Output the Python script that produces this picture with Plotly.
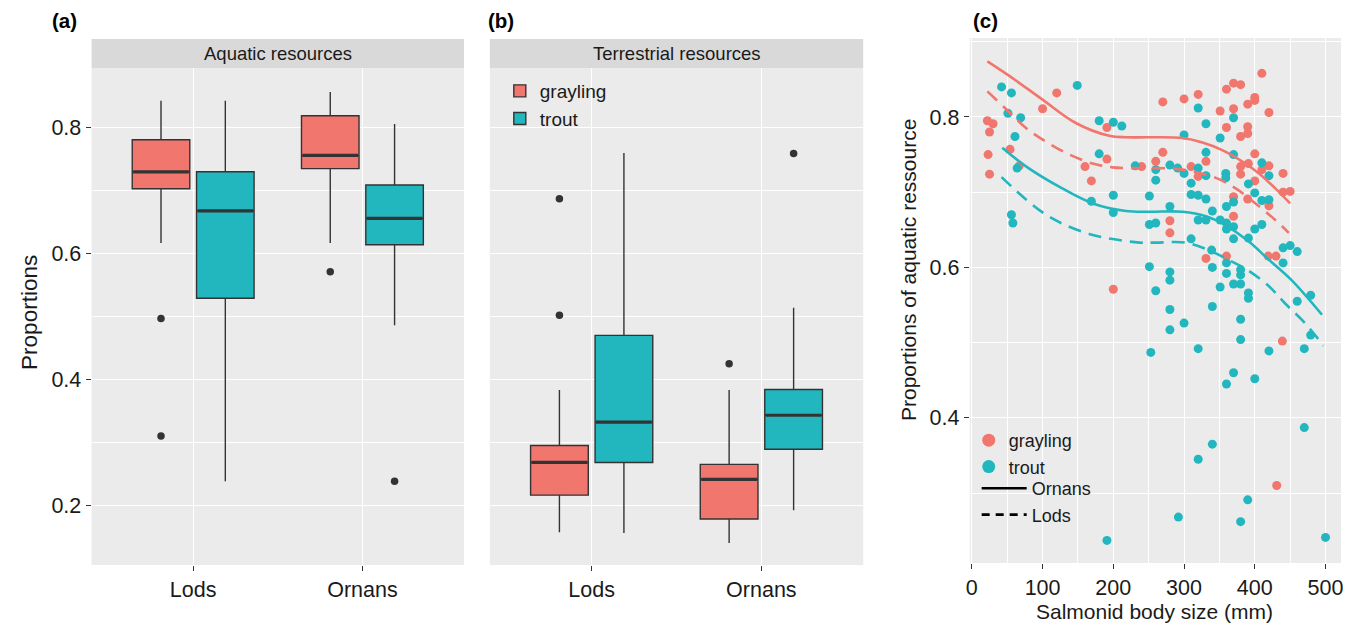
import plotly.graph_objects as go

# ---------------- data ----------------
sites = ["Lods", "Ornans"]
species = ["grayling", "trout"]
colors = {"grayling": "#F0766E", "trout": "#22B7BE"}

# Panel (a): aquatic resources (per site: Lods, Ornans)
aq_grayling_low = [0.617, 0.617]
aq_grayling_q1 = [0.703, 0.735]
aq_grayling_med = [0.730, 0.756]
aq_grayling_q3 = [0.781, 0.819]
aq_grayling_high = [0.843, 0.857]
aq_grayling_out = [[0.497, 0.310], [0.571]]

aq_trout_low = [0.238, 0.486]
aq_trout_q1 = [0.529, 0.614]
aq_trout_med = [0.668, 0.656]
aq_trout_q3 = [0.730, 0.709]
aq_trout_high = [0.843, 0.806]
aq_trout_out = [[], [0.238]]

# Panel (b): terrestrial resources
te_grayling_low = [0.157, 0.140]
te_grayling_q1 = [0.216, 0.178]
te_grayling_med = [0.268, 0.241]
te_grayling_q3 = [0.295, 0.265]
te_grayling_high = [0.383, 0.383]
te_grayling_out = [[0.687, 0.502], [0.425]]

te_trout_low = [0.156, 0.192]
te_trout_q1 = [0.268, 0.289]
te_trout_med = [0.332, 0.343]
te_trout_q3 = [0.470, 0.384]
te_trout_high = [0.760, 0.514]
te_trout_out = [[], [0.759]]

# Panel (c): body size (mm) vs proportion of aquatic resource
grayling_size = [22, 30, 25, 23, 54, 67, 25, 100, 120, 191, 191, 160, 169, 200, 240, 260,
                 270, 300, 320, 360, 370, 380, 410, 400, 400, 390, 370, 351, 420, 360, 390,
                 390, 380, 270, 400, 310, 331, 320, 380, 380, 391, 410, 420, 440, 400, 440,
                 450, 370, 390, 420, 280, 280, 370, 419, 430, 331, 360, 439, 431]
grayling_prop = [0.795, 0.791, 0.780, 0.750, 0.757, 0.735, 0.724, 0.811, 0.832, 0.786, 0.744,
                 0.734, 0.715, 0.571, 0.734, 0.741, 0.820, 0.824, 0.830, 0.837, 0.845, 0.843,
                 0.858, 0.826, 0.822, 0.817, 0.811, 0.808, 0.806, 0.786, 0.787, 0.778, 0.774,
                 0.753, 0.751, 0.734, 0.741, 0.721, 0.734, 0.724, 0.738, 0.730, 0.735, 0.725,
                 0.715, 0.700, 0.701, 0.694, 0.691, 0.682, 0.662, 0.646, 0.668, 0.615, 0.615,
                 0.612, 0.615, 0.502, 0.310]

trout_size = [42, 56, 149, 320, 51, 69, 61, 64, 56, 58, 180, 200, 212, 180, 169, 200, 200,
              231, 251, 251, 260, 251, 260, 260, 370, 331, 351, 300, 331, 370, 280, 291, 300,
              320, 331, 359, 359, 410, 420, 310, 391, 400, 310, 320, 331, 370, 410, 420, 360,
              280, 340, 320, 331, 351, 360, 360, 370, 391, 400, 410, 370, 310, 440, 450, 460,
              440, 339, 360, 340, 360, 380, 380, 280, 280, 380, 370, 351, 391, 391, 479, 460,
              260, 280, 340, 300, 280, 380, 380, 479, 470, 420, 320, 253, 370, 360, 400, 470,
              340, 320, 390, 292, 380, 500, 191]
trout_prop = [0.840, 0.832, 0.842, 0.812, 0.805, 0.799, 0.774, 0.732, 0.670, 0.659, 0.795,
              0.793, 0.788, 0.751, 0.688, 0.696, 0.673, 0.735, 0.695, 0.657, 0.659, 0.601,
              0.730, 0.716, 0.799, 0.791, 0.772, 0.776, 0.753, 0.750, 0.736, 0.732, 0.725,
              0.732, 0.722, 0.725, 0.719, 0.739, 0.722, 0.712, 0.711, 0.699, 0.697, 0.696,
              0.691, 0.687, 0.689, 0.690, 0.681, 0.681, 0.675, 0.663, 0.663, 0.663, 0.659,
              0.651, 0.654, 0.639, 0.651, 0.657, 0.638, 0.638, 0.626, 0.629, 0.621, 0.606,
              0.623, 0.606, 0.600, 0.592, 0.597, 0.590, 0.594, 0.583, 0.578, 0.578, 0.574,
              0.566, 0.559, 0.563, 0.555, 0.569, 0.544, 0.548, 0.526, 0.517, 0.531, 0.504,
              0.510, 0.492, 0.489, 0.492, 0.487, 0.460, 0.445, 0.452, 0.387, 0.365, 0.345,
              0.291, 0.268, 0.262, 0.241, 0.237]

# smoothed fits (species x site)
fit_grayling_ornans_x = [22, 54, 100, 147, 194, 218, 251, 298, 326, 354, 382, 406, 429, 450]
fit_grayling_ornans_y = [0.874, 0.854, 0.823, 0.792, 0.775, 0.773, 0.773, 0.772, 0.766, 0.756,
                         0.741, 0.725, 0.705, 0.685]
fit_grayling_lods_x = [22, 49, 77, 105, 138, 171, 199, 237, 260, 298, 345, 373, 401, 429, 448]
fit_grayling_lods_y = [0.834, 0.810, 0.785, 0.767, 0.750, 0.738, 0.733, 0.732, 0.732, 0.730,
                       0.719, 0.705, 0.685, 0.663, 0.646]
fit_trout_ornans_x = [43, 77, 124, 171, 218, 251, 298, 331, 359, 392, 420, 452, 495]
fit_trout_ornans_y = [0.759, 0.734, 0.707, 0.685, 0.675, 0.674, 0.674, 0.668, 0.656, 0.634,
                      0.610, 0.583, 0.537]
fit_trout_lods_x = [42, 77, 105, 133, 171, 204, 237, 260, 302, 335, 363, 389, 420, 443, 471, 497]
fit_trout_lods_y = [0.720, 0.690, 0.670, 0.656, 0.643, 0.637, 0.633, 0.633, 0.633, 0.623,
                    0.610, 0.597, 0.575, 0.552, 0.526, 0.496]

y_ticks_ab = [0.2, 0.4, 0.6, 0.8]
y_ticks_c = [0.4, 0.6, 0.8]
x_ticks_c = [0, 100, 200, 300, 400, 500]

# ---------------- layout helpers ----------------
W, H = 1360, 625
FONT = "Liberation Sans, Arial, sans-serif"
TXT = "#1a1a1a"
DARK = "#333333"


def pxx(v):
    return v / W


def pxy(v):
    return 1 - v / H


OFF = {"grayling": -0.19, "trout": 0.19}
BW = 0.34

fig = go.Figure()

stats = {
    "a": {
        "grayling": (aq_grayling_low, aq_grayling_q1, aq_grayling_med, aq_grayling_q3,
                     aq_grayling_high, aq_grayling_out),
        "trout": (aq_trout_low, aq_trout_q1, aq_trout_med, aq_trout_q3, aq_trout_high,
                  aq_trout_out),
    },
    "b": {
        "grayling": (te_grayling_low, te_grayling_q1, te_grayling_med, te_grayling_q3,
                     te_grayling_high, te_grayling_out),
        "trout": (te_trout_low, te_trout_q1, te_trout_med, te_trout_q3, te_trout_high,
                  te_trout_out),
    },
}

for panel, xa, ya in [("a", "x", "y"), ("b", "x2", "y2")]:
    for sp in species:
        lo, q1, med, q3, hi, outs = stats[panel][sp]
        xs = [i + 1 + OFF[sp] for i in range(len(sites))]
        fig.add_trace(go.Box(
            x=xs, q1=q1, median=med, q3=q3, lowerfence=lo, upperfence=hi,
            width=BW, fillcolor=colors[sp], line=dict(color=DARK, width=1.4),
            whiskerwidth=0, name=sp, showlegend=(panel == "b"), legend="legend",
            xaxis=xa, yaxis=ya, boxpoints=False, hoverinfo="skip",
        ))
        for x, m in zip(xs, med):
            fig.add_trace(go.Scatter(
                x=[x - BW / 2 + 0.006, x + BW / 2 - 0.006], y=[m, m], mode="lines",
                line=dict(color=DARK, width=3.2), showlegend=False,
                xaxis=xa, yaxis=ya, hoverinfo="skip",
            ))
        ox, oy = [], []
        for x, o in zip(xs, outs):
            ox += [x] * len(o)
            oy += o
        fig.add_trace(go.Scatter(
            x=ox, y=oy, mode="markers", marker=dict(color=DARK, size=7.5),
            showlegend=False, xaxis=xa, yaxis=ya, hoverinfo="skip",
        ))

# Panel (c)
fits = [
    (fit_grayling_lods_x, fit_grayling_lods_y, colors["grayling"], "13px,8px"),
    (fit_trout_lods_x, fit_trout_lods_y, colors["trout"], "13px,8px"),
    (fit_grayling_ornans_x, fit_grayling_ornans_y, colors["grayling"], "solid"),
    (fit_trout_ornans_x, fit_trout_ornans_y, colors["trout"], "solid"),
]
fig.add_trace(go.Scatter(x=grayling_size, y=grayling_prop, mode="markers",
                         marker=dict(color=colors["grayling"], size=9),
                         showlegend=False, xaxis="x3", yaxis="y3"))
fig.add_trace(go.Scatter(x=trout_size, y=trout_prop, mode="markers",
                         marker=dict(color=colors["trout"], size=9),
                         showlegend=False, xaxis="x3", yaxis="y3"))
for fx, fy, c, d in fits:
    fig.add_trace(go.Scatter(x=fx, y=fy, mode="lines", line=dict(color=c, width=2.6, dash=d,
                                                                 shape="spline"),
                             showlegend=False, xaxis="x3", yaxis="y3", hoverinfo="skip"))

# legend entries for panel (c)
for sp in species:
    fig.add_trace(go.Scatter(x=[None], y=[None], mode="markers", name=sp,
                             marker=dict(color=colors[sp], size=13),
                             legend="legend2", xaxis="x3", yaxis="y3"))
for nm, d in [("Ornans", "solid"), ("Lods", "8px,6px")]:
    fig.add_trace(go.Scatter(x=[None], y=[None], mode="lines", name=nm,
                             line=dict(color="black", width=2.6, dash=d),
                             legend="legend3", xaxis="x3", yaxis="y3"))

# ---------------- axes ----------------
tickfont = dict(family=FONT, size=21.5, color=TXT)
grid = dict(showgrid=True, gridcolor="white", gridwidth=1.3, zeroline=False,
            showline=False, ticks="outside", ticklen=5, tickwidth=1.2, tickcolor=DARK,
            tickfont=tickfont)

dom_a = [pxx(88), pxx(462)]
dom_b = [pxx(488), pxx(863)]
dom_c = [pxx(970), pxx(1343)]
ydom_ab = [pxy(565), pxy(68)]
ydom_c = [pxy(563), pxy(38)]

minor_ab = dict(tickvals=[0.3, 0.5, 0.7], showgrid=True, gridcolor="white", gridwidth=0.6,
                ticks="")

fig.update_layout(
    xaxis=dict(domain=dom_a, range=[0.4, 2.6], tickvals=[1, 2], ticktext=sites,
               anchor="y", **grid),
    yaxis=dict(domain=ydom_ab, range=[0.105, 0.895], tickvals=y_ticks_ab,
               ticktext=[f"{v:.1f}" for v in y_ticks_ab], anchor="x", minor=minor_ab,
               **grid),
    xaxis2=dict(domain=dom_b, range=[0.4, 2.6], tickvals=[1, 2], ticktext=sites,
                anchor="y2", **grid),
    yaxis2=dict(domain=ydom_ab, range=[0.105, 0.895], tickvals=y_ticks_ab,
                anchor="x2", minor=minor_ab,
                **{**grid, "ticks": "", "tickfont": tickfont}, showticklabels=False),
    xaxis3=dict(domain=dom_c, range=[-3, 522], tickvals=x_ticks_c,
                ticktext=[str(v) for v in x_ticks_c], anchor="y3",
                minor=dict(tickvals=[50, 150, 250, 350, 450], showgrid=True,
                           gridcolor="white", gridwidth=0.6, ticks=""),
                **grid),
    yaxis3=dict(domain=ydom_c, range=[0.207, 0.905], tickvals=y_ticks_c,
                ticktext=[f"{v:.1f}" for v in y_ticks_c], anchor="x3",
                minor=dict(tickvals=[0.3, 0.5, 0.7, 0.9], showgrid=True,
                           gridcolor="white", gridwidth=0.6, ticks=""),
                **grid),
)

shapes = []
annotations = []
for (x0, x1), label in [((88, 462), "Aquatic resources"), ((488, 863), "Terrestrial resources")]:
    shapes.append(dict(type="rect", xref="paper", yref="paper", x0=pxx(x0), x1=pxx(x1),
                       y0=pxy(68), y1=pxy(39), fillcolor="#D9D9D9", line=dict(width=0),
                       layer="below"))
    annotations.append(dict(text=label, xref="paper", yref="paper", x=pxx((x0 + x1) / 2),
                            y=pxy(53.5), showarrow=False, xanchor="center", yanchor="middle",
                            font=dict(family=FONT, size=18.5, color=TXT)))

for txt, x in [("(a)", 46), ("(b)", 484), ("(c)", 971)]:
    annotations.append(dict(text=f"<b>{txt}</b>", xref="paper", yref="paper", x=pxx(x),
                            y=pxy(21), showarrow=False, xanchor="left", yanchor="middle",
                            font=dict(family=FONT, size=20.5, color="black")))

annotations.append(dict(text="Proportions", xref="paper", yref="paper", x=pxx(25),
                        y=pxy(312), showarrow=False, textangle=-90, xanchor="center",
                        yanchor="middle", font=dict(family=FONT, size=22.5, color=TXT)))
annotations.append(dict(text="Proportions of aquatic ressource", xref="paper", yref="paper",
                        x=pxx(909), y=pxy(270), showarrow=False, textangle=-90,
                        xanchor="center", yanchor="middle",
                        font=dict(family=FONT, size=21, color=TXT)))
annotations.append(dict(text="Salmonid body size (mm)", xref="paper", yref="paper",
                        x=pxx(1156), y=pxy(611), showarrow=False, xanchor="center",
                        yanchor="middle", font=dict(family=FONT, size=21, color=TXT)))

fig.update_layout(
    width=W, height=H, margin=dict(l=0, r=0, t=0, b=0),
    paper_bgcolor="white", plot_bgcolor="#EBEBEB",
    font=dict(family=FONT, color=TXT),
    boxmode="overlay", shapes=shapes, annotations=annotations,
    legend=dict(x=pxx(498), y=pxy(72), xanchor="left", yanchor="top",
                bgcolor="rgba(0,0,0,0)", font=dict(family=FONT, size=19, color=TXT),
                itemwidth=30, tracegroupgap=2),
    legend2=dict(x=pxx(969), y=pxy(422), xanchor="left", yanchor="top",
                 bgcolor="rgba(0,0,0,0)", font=dict(family=FONT, size=18, color=TXT),
                 itemwidth=30, tracegroupgap=0),
    legend3=dict(x=pxx(977), y=pxy(470), xanchor="left", yanchor="top",
                 bgcolor="rgba(0,0,0,0)", font=dict(family=FONT, size=18, color=TXT),
                 itemwidth=45, tracegroupgap=0),
)

# remove the default 8px page margin so the 1360x625 figure fills the window exactly
fig.write_html(
    "out.html",
    config={"displayModeBar": False},
    post_script="document.body.style.margin='0';document.body.style.overflow='hidden';",
)
